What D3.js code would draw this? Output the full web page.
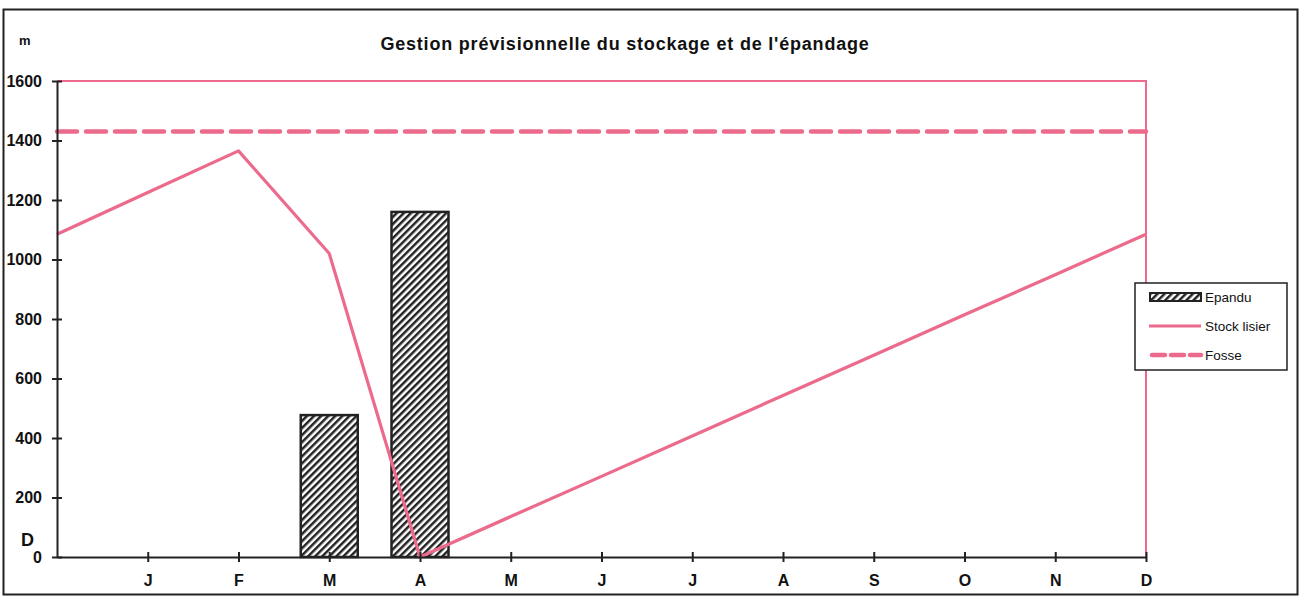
<!DOCTYPE html>
<html><head><meta charset="utf-8">
<script src="https://cdn.jsdelivr.net/npm/d3@7"></script>
<style>body{margin:0;background:#fff}svg{display:block;font-family:"Liberation Sans",Arial,sans-serif}</style>
</head><body><svg id="c" width="1302" height="606"></svg>
<script>
const months = ["", "J","F","M","A","M","J","J","A","S","O","N","D"];
const stockLisier = [1085,1225,1365,1020,0,136,271,407,543,678,814,949,1085];
const epandu = [0,0,0,477,1160,0,0,0,0,0,0,0,0];
const fosse = [1430,1430,1430,1430,1430,1430,1430,1430,1430,1430,1430,1430,1430];
const yTicks = [0,200,400,600,800,1000,1200,1400,1600];
const title = "Gestion prévisionnelle du stockage et de l'épandage";
const legendLabels = ["Epandu","Stock lisier","Fosse"];

const pink = "#ec6a8c", ink = "#222";
const svg = d3.select("#c");
const L = 57, R = 1146, T = 81, B = 557;
const x = d3.scalePoint().domain(d3.range(months.length)).range([L, R]);
const y = d3.scaleLinear().domain([0,1600]).range([B, T]);
const bw = 57;

// outer frame
svg.append("rect").attr("x",3.5).attr("y",9.5).attr("width",1294).attr("height",585)
  .attr("fill","none").attr("stroke",ink).attr("stroke-width",2);

// hatch pattern
const defs = svg.append("defs");
const pat = defs.append("pattern").attr("id","hatch").attr("patternUnits","userSpaceOnUse")
  .attr("width",5).attr("height",5).attr("patternTransform","rotate(45)");
pat.append("rect").attr("width",5).attr("height",5).attr("fill","#fff");
pat.append("line").attr("x1",1.25).attr("y1",0).attr("x2",1.25).attr("y2",5)
  .attr("stroke",ink).attr("stroke-width",2.5);

// plot border (top & right pink)
svg.append("path").attr("d",`M${L},${T}H${R}V${B}`).attr("fill","none")
  .attr("stroke",pink).attr("stroke-width",2);

// title
svg.append("text").attr("x",625).attr("y",50).attr("text-anchor","middle")
  .attr("font-size",18).attr("font-weight","bold").attr("letter-spacing",0.8).attr("fill","#111").text(title);
svg.append("text").attr("x",19).attr("y",45).attr("font-size",13).attr("font-weight","bold").attr("fill","#111").text("m");
svg.append("text").attr("x",21).attr("y",546).attr("font-size",18).attr("font-weight","bold").attr("fill","#111").text("D");

// bars
svg.append("g").selectAll("rect").data(epandu.map((v,i)=>({v,i})).filter(d=>d.v>0)).join("rect")
  .attr("x",d=>x(d.i)-bw/2).attr("y",d=>y(d.v)).attr("width",bw).attr("height",d=>B-y(d.v))
  .attr("fill","url(#hatch)").attr("stroke",ink).attr("stroke-width",2.5);

// fosse
svg.append("path").datum(fosse).attr("fill","none").attr("stroke",pink).attr("stroke-width",4.5)
  .attr("stroke-dasharray","20,9").attr("stroke-linecap","round")
  .attr("d",d3.line().x((d,i)=>x(i)).y(d=>y(d)));

// stock line
svg.append("path").datum(stockLisier).attr("fill","none").attr("stroke",pink).attr("stroke-width",3.2)
  .attr("stroke-linejoin","round")
  .attr("d",d3.line().x((d,i)=>x(i)).y(d=>y(d)));

// axes
const yAxis = d3.axisLeft(y).tickValues(yTicks).tickSizeInner(-5).tickSizeOuter(0).tickPadding(15).tickFormat(d3.format("d"));
const gy = svg.append("g").attr("transform",`translate(${L},0)`).call(yAxis);
gy.selectAll(".tick line").attr("x1",-5).attr("x2",5);
gy.select(".domain").attr("stroke",ink).attr("stroke-width",2);
gy.selectAll(".tick line").attr("stroke",ink).attr("stroke-width",2);
gy.selectAll("text").attr("font-size",16).attr("font-weight","bold").attr("fill","#111")
  .attr("font-family","'Liberation Sans',Arial,sans-serif");

const xAxis = d3.axisBottom(x).tickFormat(i=>months[i]).tickSizeInner(5).tickSizeOuter(0).tickPadding(13);
const gx = svg.append("g").attr("transform",`translate(0,${B})`).call(xAxis);
gx.selectAll(".tick").filter(i=>i===0).remove();
gx.selectAll(".tick line").attr("y1",-5).attr("y2",5).attr("stroke",ink).attr("stroke-width",2);
gx.select(".domain").attr("stroke",ink).attr("stroke-width",2);
gx.selectAll("text").attr("font-size",16).attr("font-weight","bold").attr("fill","#111")
  .attr("font-family","'Liberation Sans',Arial,sans-serif");

// legend
const lg = svg.append("g");
lg.append("rect").attr("x",1135).attr("y",283).attr("width",152).attr("height",87)
  .attr("fill","#fff").attr("stroke",ink).attr("stroke-width",1.5);
const ly = [297,326,355];
lg.append("rect").attr("x",1150).attr("y",ly[0]-4).attr("width",51).attr("height",8)
  .attr("fill","url(#hatch)").attr("stroke",ink).attr("stroke-width",2);
lg.append("line").attr("x1",1149).attr("x2",1201).attr("y1",ly[1]).attr("y2",ly[1])
  .attr("stroke",pink).attr("stroke-width",3);
lg.append("line").attr("x1",1152).attr("x2",1201).attr("y1",ly[2]).attr("y2",ly[2])
  .attr("stroke",pink).attr("stroke-width",4.5).attr("stroke-dasharray","13,6").attr("stroke-linecap","round");
lg.selectAll("text.l").data(legendLabels).join("text").attr("class","l")
  .attr("x",1205).attr("y",(d,i)=>ly[i]+5).attr("font-size",13.5).attr("fill","#111").text(d=>d);
</script></body></html>
